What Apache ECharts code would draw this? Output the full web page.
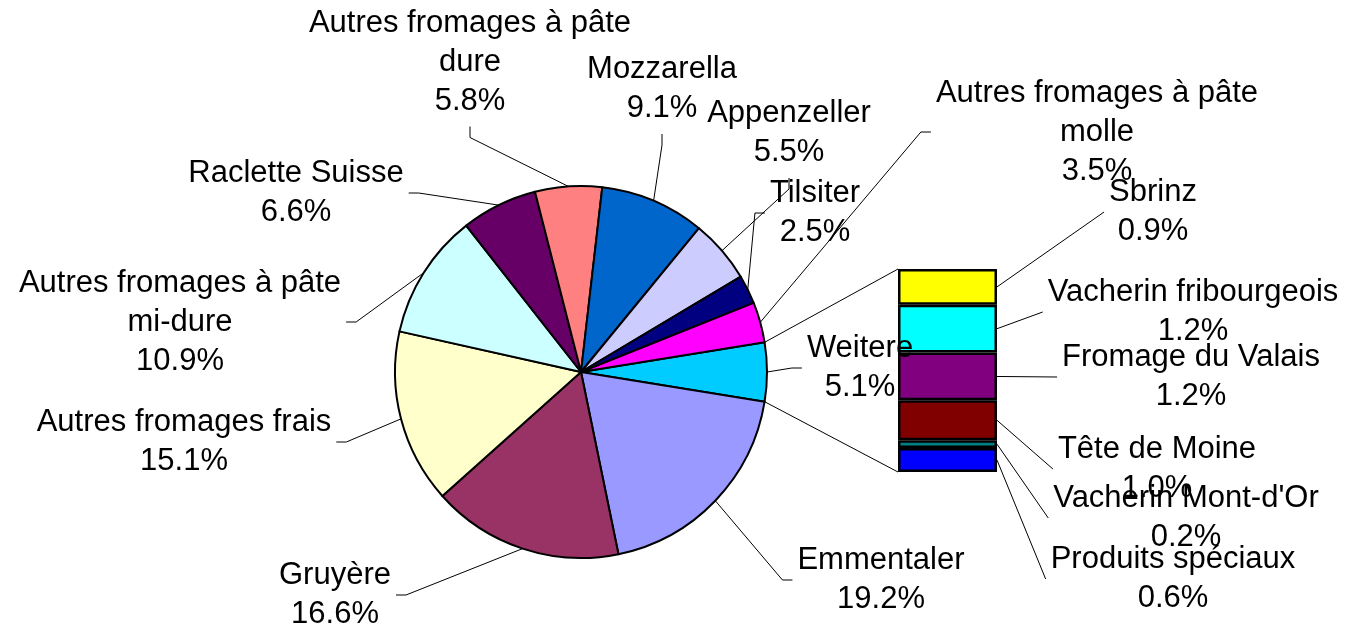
<!DOCTYPE html>
<html>
<head>
<meta charset="utf-8">
<script src="https://cdn.jsdelivr.net/npm/echarts@6/dist/echarts.min.js"></script>
<style>
  html, body { margin: 0; background: #fff; }
  #chart { width: 1364px; height: 630px; }
</style>
</head>
<body>
<div id="chart"></div>
<script>
// pie slices, clockwise starting with the "Weitere" slice (which feeds the bar)
const pieNames = [
  'Weitere', 'Emmentaler', 'Gruyère', 'Autres fromages frais',
  'Autres fromages à pâte\nmi-dure', 'Raclette Suisse', 'Autres fromages à pâte\ndure',
  'Mozzarella', 'Appenzeller', 'Tilsiter', 'Autres fromages à pâte\nmolle'
]
const pieValues = [5.1, 19.2, 16.6, 15.1, 10.9, 6.6, 5.8, 9.1, 5.5, 2.5, 3.5]
const pieColors = [
  '#00CCFF', '#9999FF', '#993366', '#FFFFCC', '#CCFFFF', '#660066',
  '#FF8080', '#0066CC', '#CCCCFF', '#000080', '#FF00FF'
]

// breakdown of "Weitere", top to bottom
const barNames = ['Sbrinz', 'Vacherin fribourgeois', 'Fromage du Valais', 'Tête de Moine', "Vacherin Mont-d'Or", 'Produits spéciaux']
const barValues = [0.9, 1.2, 1.2, 1.0, 0.2, 0.6]
const barColors = ['#FFFF00', '#00FFFF', '#800080', '#800000', '#008080', '#0000FF']

// label centres and the side the leader line attaches to (layout only)
const pieLabelPos = [
  [860, 368], [881, 580], [335, 595], [184, 442], [180, 322], [296, 193],
  [470, 62], [662, 89], [789, 133], [815, 213], [1097, 132]
]
const pieLabelSide = ['left', 'left', 'right', 'right', 'right', 'right', 'bottom', 'bottom', 'bottom', 'left', 'left']
const barLabelPos = [[1153, 212], [1193, 312], [1191, 377], [1157, 469], [1186, 518], [1173, 579]]

const pieCenter = [581, 372]
const pieRadius = 186
const barBox = { left: 898, top: 269, width: 99, height: 203 }

const total = pieValues.reduce((a, b) => a + b, 0)
const barSum = barValues.reduce((a, b) => a + b, 0)
// "Weitere" is centred on 3 o'clock
const startAngle = pieValues[0] / total * 180

// mid angle of every slice (degrees, counter-clockwise from 3 o'clock)
const midAngles = []
let acc = startAngle
pieValues.forEach(v => {
  const span = v / total * 360
  midAngles.push(acc - span / 2)
  acc -= span
})

const edgePoint = (deg) => {
  const a = deg * Math.PI / 180
  return [pieCenter[0] + pieRadius * Math.cos(a), pieCenter[1] - pieRadius * Math.sin(a)]
}

const fontFamily = 'Liberation Sans, Arial, sans-serif'
const fontSize = 31
const font = { color: '#000', fontFamily, fontSize, lineHeight: 39, align: 'center' }
const lineStyle = { stroke: '#000', lineWidth: 1 }

// leader line: slice anchor -> bend -> label edge
const leaderPoints = (anchor, pos, w, h, side) => {
  const [cx, cy] = pos
  if (side === 'left') return [anchor, [cx - w / 2 - 15, cy], [cx - w / 2 - 5, cy]]
  if (side === 'right') return [anchor, [cx + w / 2 + 15, cy], [cx + w / 2 + 5, cy]]
  return [anchor, [cx, cy + h / 2 + 17], [cx, cy + h / 2 + 6]]
}

const ctx = document.createElement('canvas').getContext('2d')
ctx.font = fontSize + 'px ' + fontFamily
const textWidth = s => Math.max(...s.split('\n').map(l => ctx.measureText(l).width))

const chart = echarts.init(document.getElementById('chart'))

const barSeries = barNames.map((name, i) => ({
  name: name,
  type: 'bar',
  stack: 'weitere',
  barWidth: '100%',
  data: [barValues[i]],
  itemStyle: { color: barColors[i], borderColor: '#000', borderWidth: 2.5 },
  label: {
    show: true,
    position: 'right',
    ...font,
    formatter: p => p.seriesName + '\n' + p.value.toFixed(1) + '%'
  },
  labelLayout: { x: barLabelPos[i][0], y: barLabelPos[i][1], align: 'center', verticalAlign: 'middle' },
  emphasis: { disabled: true }
}))

chart.setOption({
  animation: false,
  backgroundColor: '#fff',
  grid: { left: barBox.left, top: barBox.top, width: barBox.width, height: barBox.height },
  xAxis: { type: 'category', data: ['Weitere'], show: false },
  yAxis: { type: 'value', min: 0, max: barSum, inverse: true, show: false },
  series: [
    {
      type: 'pie',
      center: pieCenter,
      radius: pieRadius,
      startAngle: startAngle,
      clockwise: true,
      avoidLabelOverlap: false,
      data: pieNames.map((n, i) => ({ name: n, value: pieValues[i], itemStyle: { color: pieColors[i] } })),
      itemStyle: { borderColor: '#000', borderWidth: 2 },
      label: {
        show: true,
        position: 'outside',
        ...font,
        formatter: p => p.name + '\n' + p.value.toFixed(1) + '%'
      },
      labelLine: { show: true, lineStyle: { color: '#000', width: 1 } },
      labelLayout: p => {
        const i = p.dataIndex
        const pos = pieLabelPos[i]
        return {
          x: pos[0], y: pos[1], align: 'center', verticalAlign: 'middle',
          labelLinePoints: leaderPoints(edgePoint(midAngles[i]), pos, p.labelRect.width, p.labelRect.height, pieLabelSide[i])
        }
      },
      emphasis: { disabled: true }
    },
    ...barSeries
  ]
})

// connectors pie -> bar, and leader lines from each bar segment to its label
const pTop = edgePoint(startAngle)
const pBottom = edgePoint(-startAngle)
const graphics = [
  { type: 'line', shape: { x1: pTop[0], y1: pTop[1], x2: barBox.left, y2: barBox.top }, style: lineStyle, z: 1 },
  { type: 'line', shape: { x1: pBottom[0], y1: pBottom[1], x2: barBox.left, y2: barBox.top + barBox.height }, style: lineStyle, z: 1 }
]
let cum = 0
barValues.forEach((v, i) => {
  const y = chart.convertToPixel({ yAxisIndex: 0 }, cum + v / 2)
  cum += v
  const text = barNames[i] + '\n' + v.toFixed(1) + '%'
  const x2 = barLabelPos[i][0] - textWidth(text) / 2 - 5
  graphics.push({
    type: 'line',
    shape: { x1: barBox.left + barBox.width, y1: y, x2: x2, y2: barLabelPos[i][1] },
    style: lineStyle,
    z: 1
  })
})
chart.setOption({ graphic: graphics })
</script>
</body>
</html>
